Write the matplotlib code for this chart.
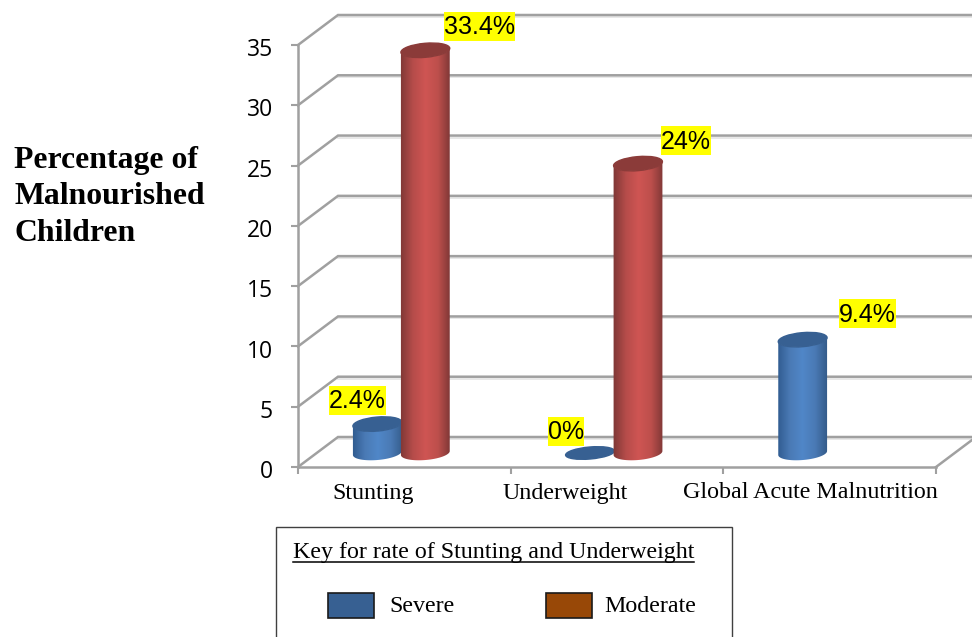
import numpy as np
import matplotlib
matplotlib.use("Agg")
import matplotlib.pyplot as plt
from matplotlib.colors import LinearSegmentedColormap
from matplotlib.patches import Ellipse, Polygon, Rectangle
from matplotlib.transforms import ScaledTranslation

categories = ["Stunting", "Underweight", "Global Acute Malnutrition"]
severe = [2.4, 0, 9.4]
moderate = [33.4, 24, None]
y_ticks = [0, 5, 10, 15, 20, 25, 30, 35]

key_title = "Key for rate of Stunting and Underweight"
key_labels = ["Severe", "Moderate"]
key_colors = ["#376092", "#984807"]

W, H = 972, 637
GRID = "#a0a0a0"
SERIF = "Liberation Serif"

blue_map = LinearSegmentedColormap.from_list("b", ["#2f5a8e", "#4a7ab5", "#5087c8", "#4a7ab5", "#335a88"])
red_map = LinearSegmentedColormap.from_list("r", ["#7e3735", "#b54c4a", "#cf5553", "#bd4f4c", "#7c3635"])

fig = plt.figure(figsize=(W / 100, H / 100), dpi=100)
ax = fig.add_axes([298 / W, (H - 467) / H, 638 / W, 422 / H])
ax.set_xlim(0, 3)
ax.set_ylim(0, 35)
ax.patch.set_visible(False)
for s in ["top", "right"]:
    ax.spines[s].set_visible(False)
for s in ["left", "bottom"]:
    ax.spines[s].set_color(GRID)
    ax.spines[s].set_linewidth(1.8)
ax.set_yticks(y_ticks)
ax.set_xticks([0, 1, 2, 3])
ax.set_xticklabels([])
ax.tick_params(axis="both", color=GRID, width=1.5, length=5)
ax.tick_params(axis="y", labelsize=16.5, pad=13)
nudge = ScaledTranslation(0, -1.5 / 72, fig.dpi_scale_trans)
for lab in ax.get_yticklabels():
    lab.set_family("Open Sans")
    lab.set_transform(lab.get_transform() + nudge)

# overlay in display pixels for the 3d look
ov = fig.add_axes([0, 0, 1, 1], zorder=3)
ov.set_xlim(0, W)
ov.set_ylim(0, H)
ov.axis("off")


def to_px(x, v):
    return ax.transData.transform((x, v))


# depth of the walls and floor, pixels
DX, DY = 40, 30
for v in y_ticks:
    x0, y0 = to_px(0, v)
    ov.plot([x0, x0 + DX, W], [y0, y0 + DY, y0 + DY], color=GRID, lw=1.8, zorder=1,
            solid_joinstyle="miter")
    ov.plot([x0 + DX, W], [y0 + DY - 2, y0 + DY - 2], color="#e4e4e4", lw=1.2, zorder=0.9)
x1, y1 = to_px(3, 0)
ov.plot([x1, x1 + DX], [y1, y1 + DY], color=GRID, lw=1.8, zorder=1)

BW = 49
A, B = BW / 2, 7.0
TILT = np.radians(5)


def ell_pts(cx, cy, t):
    x = cx + A * np.cos(t) * np.cos(TILT) - B * np.sin(t) * np.sin(TILT)
    y = cy + A * np.cos(t) * np.sin(TILT) + B * np.sin(t) * np.cos(TILT)
    return np.column_stack([x, y])


def cylinder(cx, value, cmap, top_color, z):
    # base sits part way into the floor
    _, base = to_px(0, FLOOR)
    _, top = to_px(0, FLOOR + value)
    if value == 0:
        ov.add_patch(Ellipse((cx, base), BW, 2 * B - 2, angle=5, color=top_color, zorder=z))
        return
    t = np.linspace(np.pi, 2 * np.pi, 40)
    low = ell_pts(cx, base, t)
    up = ell_pts(cx, top, t[::-1])
    body = Polygon(np.vstack([low, up]), closed=True, transform=ov.transData, fc="none", ec="none")
    ov.add_patch(body)
    im = ov.imshow(np.linspace(0, 1, 128).reshape(1, -1), cmap=cmap, aspect="auto",
                   extent=(cx - A - 1, cx + A + 1, base - B - 2, top + B + 2), zorder=z)
    im.set_clip_path(body)
    ov.add_patch(Ellipse((cx, top), BW, 2 * B, angle=5, color=top_color, zorder=z + 0.1))


FLOOR = 14 / (422 / 35)
GROUP_SHIFT = 3 / (638 / 3)
for i in range(3):
    cx, _ = to_px(i + 0.5 - GROUP_SHIFT, 0)
    cylinder(cx - BW / 2 + 0.5, severe[i], blue_map, "#376092", 2)
    if moderate[i] is not None:
        cylinder(cx + BW / 2 - 0.5, moderate[i], red_map, "#8b3b39", 3)
ov.set_xlim(0, W)
ov.set_ylim(0, H)

# category names sit off-centre under each span
name_shift = [-31, -52, -19]
for i, name in enumerate(categories):
    nx, ny = to_px(i + 0.5, 0)
    ov.text(nx + name_shift[i], ny - 26, name, family=SERIF, fontsize=17.3, ha="center", va="center",
            clip_on=False)

# value labels, offset in pixels from each bar top
severe_off = [(-20, 24), (-24, 22), (65, 26)]
moderate_off = [(54, 24), (48, 23), None]
fig.canvas.draw()
rend = fig.canvas.get_renderer()
for i in range(3):
    cx, _ = to_px(i + 0.5 - GROUP_SHIFT, 0)
    for vals, off, sign in ((severe, severe_off, -1), (moderate, moderate_off, 1)):
        if vals[i] is None:
            continue
        bx = cx + sign * (BW / 2 - 0.5)
        _, by = to_px(0, FLOOR + vals[i])
        lbl = ov.text(bx + off[i][0], by + off[i][1] - 1, f"{vals[i]:g}%", family="Liberation Sans", fontsize=18,
                      ha="center", va="center", zorder=5)
        e = lbl.get_window_extent(rend)
        ov.add_patch(Rectangle((e.x0, by + off[i][1] - 14.5), e.width, 29, fc="#ffff00", ec="none", zorder=4.5))

# axis title at the left
ov.text(14, H - 197, "Percentage of\nMalnourished\nChildren", family=SERIF, weight="bold", fontsize=22.9,
        ha="left", va="center", linespacing=1.33, color="black")

# hand drawn key box, runs off the bottom edge
ov.add_patch(Rectangle((275.5, -5), 456, H - 527 + 5, fc="white", ec="#404040", lw=1, zorder=4))
kt = ov.text(293, H - 552.5, key_title, family=SERIF, fontsize=17.3, ha="left", va="center", zorder=5)
ext = kt.get_window_extent(rend)
ov.plot([ext.x0, ext.x1], [H - 562, H - 562], color="black", lw=1.1, zorder=5)
for label, col, sx, tx in zip(key_labels, key_colors, [328, 546], [389, 604]):
    ov.add_patch(Rectangle((sx, H - 618), 46, 25, fc=col, ec="#1a1a1a", lw=1.2, zorder=5))
    ov.text(tx, H - 607, label, family=SERIF, fontsize=17.3, ha="left", va="center", zorder=5)

fig.savefig("out.png", dpi=100, facecolor="white")
